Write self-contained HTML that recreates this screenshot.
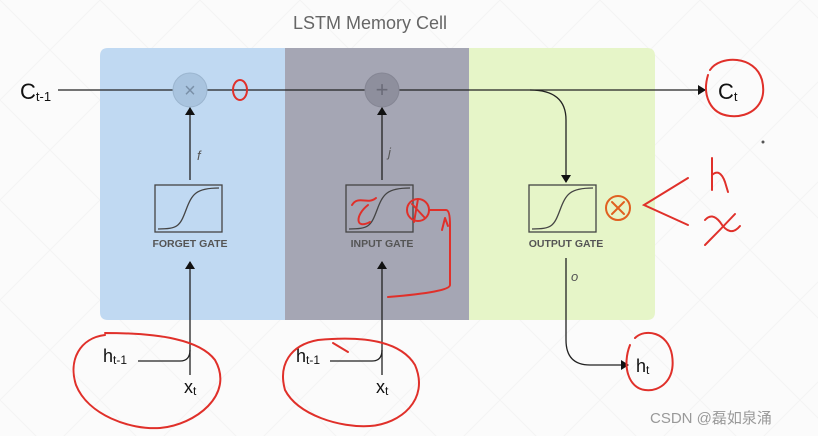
<!DOCTYPE html>
<html><head><meta charset="utf-8"><style>
html,body{margin:0;padding:0;background:#fafafa;}
svg{display:block}
text{font-family:"Liberation Sans",sans-serif}
</style></head><body>
<svg width="818" height="436" viewBox="0 0 818 436" xmlns="http://www.w3.org/2000/svg">
<defs>
<pattern id="g" width="100" height="100" patternUnits="userSpaceOnUse">
<path d="M0 0L100 100M100 0L0 100" stroke="#f4f4f4" stroke-width="1"/>
</pattern>
<marker id="a" markerWidth="8" markerHeight="10" refX="7" refY="5" orient="auto" markerUnits="userSpaceOnUse">
<path d="M0 0L8 5L0 10z" fill="#111"/></marker>
</defs>
<rect width="818" height="436" fill="#fbfbfb"/>
<rect width="818" height="436" fill="url(#g)"/>
<text x="370" y="29" font-size="18" fill="#666" text-anchor="middle">LSTM Memory Cell</text>
<path d="M108 48H285V320H108Q100 320 100 312V56Q100 48 108 48z" fill="#c0d9f2"/>
<rect x="285" y="48" width="184" height="272" fill="#a5a6b4"/>
<path d="M469 48H647Q655 48 655 56V312Q655 320 647 320H469z" fill="#e6f5c8"/>
<text x="20" y="99" font-size="22" fill="#111">C<tspan font-size="13" dy="2">t-1</tspan></text>
<line x1="58" y1="90" x2="705" y2="90" stroke="#222" stroke-width="1.3" marker-end="url(#a)"/>
<text x="718" y="99" font-size="22" fill="#111">C<tspan font-size="13" dy="2">t</tspan></text>
<circle cx="190" cy="90" r="17" fill="#a9c4df" stroke="#9bb5cf"/>
<text x="190" y="97" font-size="20" fill="#7a90a8" text-anchor="middle">×</text>
<circle cx="382" cy="90" r="17" fill="#8e8f9d" stroke="#858694"/>
<text x="382" y="97" font-size="22" fill="#6a6b78" text-anchor="middle">+</text>
<g fill="none" stroke="#444" stroke-width="1.3">
<rect x="155" y="185" width="67" height="47"/>
<rect x="346" y="185" width="67" height="47"/>
<rect x="529" y="185" width="67" height="47"/>
<path d="M158 229C178 229 180 226 186 210S196 188 219 188"/>
<path d="M349 229C369 229 371 226 377 210S387 188 410 188"/>
<path d="M532 229C552 229 554 226 560 210S570 188 593 188"/>
</g>
<g font-size="10.5" font-weight="bold" fill="#555" text-anchor="middle">
<text x="190" y="247">FORGET GATE</text>
<text x="382" y="247">INPUT GATE</text>
<text x="566" y="247">OUTPUT GATE</text>
</g>
<g stroke="#222" stroke-width="1.3" fill="none">
<line x1="190" y1="180" x2="190" y2="108" marker-end="url(#a)"/>
<line x1="382" y1="180" x2="382" y2="108" marker-end="url(#a)"/>
<line x1="190" y1="375" x2="190" y2="262" marker-end="url(#a)"/>
<line x1="382" y1="375" x2="382" y2="262" marker-end="url(#a)"/>
<path d="M138 361H180Q190 361 190 350"/>
<path d="M330 361H372Q382 361 382 350"/>
<path d="M530 90Q566 90 566 120V182" marker-end="url(#a)"/>
<path d="M566 258V340Q566 365 590 365H628" marker-end="url(#a)"/>
</g>
<g font-style="italic" font-size="13" fill="#555">
<text x="197" y="160">f</text><text x="388" y="157">j</text><text x="571" y="281">o</text>
</g>
<g font-size="18" fill="#111">
<text x="103" y="362">h<tspan font-size="12" dy="2">t-1</tspan></text>
<text x="296" y="362">h<tspan font-size="12" dy="2">t-1</tspan></text>
<text x="184" y="393">x<tspan font-size="12" dy="2">t</tspan></text>
<text x="376" y="393">x<tspan font-size="12" dy="2">t</tspan></text>
<text x="636" y="372">h<tspan font-size="12" dy="2">t</tspan></text>
</g>
<g stroke="#e0302a" stroke-width="2" fill="none" stroke-linecap="round">
<ellipse cx="240" cy="90" rx="7" ry="10"/>
<path d="M105 335C80 338 68 360 76 385C88 415 130 430 160 428C195 425 235 395 215 360C200 340 160 333 105 333"/>
<path d="M318 340C290 345 278 365 285 390C298 415 340 428 370 426C400 424 430 400 415 365C400 340 360 336 318 340"/>
<path d="M333 343L348 352"/>
<path d="M352 205C358 195 368 205 376 198M368 205C355 215 355 230 370 222"/>
<circle cx="418" cy="210" r="11"/><path d="M412 204L425 218M418 199L414 222"/>
<path d="M429 210H446Q450 210 450 225V285Q450 292 388 297"/><path d="M445 218L442 230M445 218L448 226"/>
<circle cx="618" cy="208" r="12" stroke="#e06020"/><path d="M612 202L624 214M624 202L612 214" stroke="#e06020"/>
<path d="M688 178L644 205L688 225"/>
<path d="M712 158L712 190M712 175Q720 168 725 182L728 192"/>
<path d="M705 220Q712 212 720 222Q730 238 740 226M735 214Q720 230 705 245"/>
<path d="M710 70C720 55 755 55 762 80C768 105 750 118 730 116C710 114 702 95 708 75"/>
<path d="M635 338C645 328 668 332 672 355C676 380 660 392 645 390C628 388 622 365 630 345"/>
</g>
<circle cx="763" cy="142" r="1.5" fill="#555"/>
<text x="650" y="423" font-size="15" fill="#999" font-family="'Liberation Sans','Noto Sans CJK SC',sans-serif">CSDN @磊如泉涌</text>
</svg>
</body></html>
